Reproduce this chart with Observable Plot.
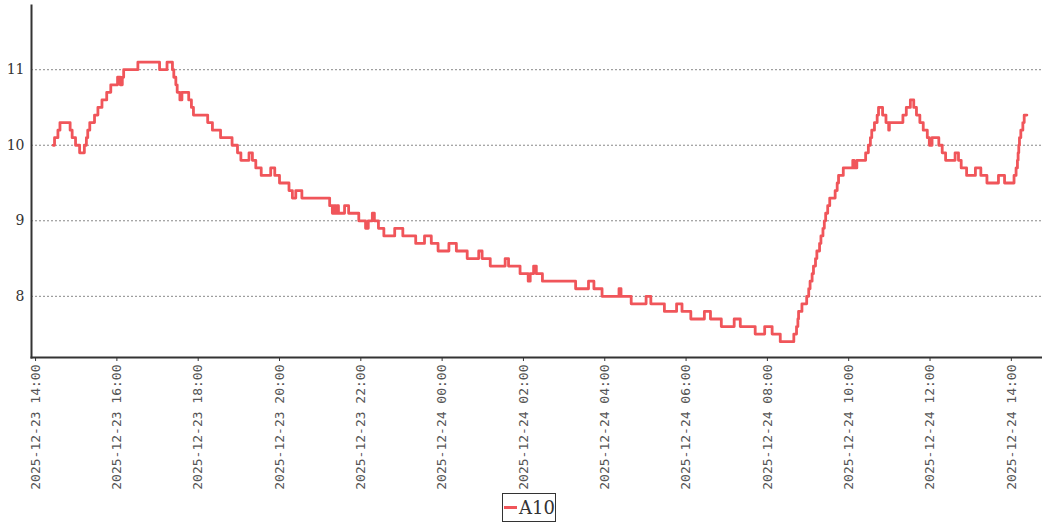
<!DOCTYPE html>
<html>
<head>
<meta charset="utf-8">
<script src="https://cdn.jsdelivr.net/npm/d3@7"></script>
<script src="https://cdn.jsdelivr.net/npm/@observablehq/plot@0.6"></script>
<style>
  html, body { margin: 0; padding: 0; background: #fff; }
  #chart { position: relative; width: 1042px; }
  #legend { position: relative; width: 1042px; height: 29px; }
  .lg-box { position: absolute; left: 502px; top: 0; width: 52px; height: 27px; border: 1px solid #333; display: flex; align-items: center; font-family: "DejaVu Serif", serif; font-size: 18px; color: #333; }
  .lg-sw { width: 15px; height: 3px; background: #f0555a; margin-left: 1px; margin-right: 2px; }
</style>
</head>
<body>
<div id="chart"></div>
<div id="legend"><div class="lg-box"><span class="lg-sw"></span><span id="lg-text"></span></div></div>
<script>
const seriesName = "A10";
const times = [
"2025-12-23 14:26","2025-12-23 14:28","2025-12-23 14:33","2025-12-23 14:36","2025-12-23 14:51","2025-12-23 14:54","2025-12-23 14:59","2025-12-23 15:05","2025-12-23 15:12","2025-12-23 15:15",
"2025-12-23 15:17","2025-12-23 15:20","2025-12-23 15:27","2025-12-23 15:32","2025-12-23 15:38","2025-12-23 15:45","2025-12-23 15:51","2025-12-23 16:01","2025-12-23 16:05","2025-12-23 16:08",
"2025-12-23 16:10","2025-12-23 16:31","2025-12-23 17:03","2025-12-23 17:14","2025-12-23 17:22","2025-12-23 17:24","2025-12-23 17:27","2025-12-23 17:29","2025-12-23 17:33","2025-12-23 17:36",
"2025-12-23 17:46","2025-12-23 17:50","2025-12-23 17:53","2025-12-23 18:14","2025-12-23 18:21","2025-12-23 18:33","2025-12-23 18:50","2025-12-23 18:58","2025-12-23 19:03","2025-12-23 19:15",
"2025-12-23 19:20","2025-12-23 19:25","2025-12-23 19:33","2025-12-23 19:47","2025-12-23 19:53","2025-12-23 20:00","2025-12-23 20:14","2025-12-23 20:19","2025-12-23 20:24","2025-12-23 20:33",
"2025-12-23 21:14","2025-12-23 21:18","2025-12-23 21:20","2025-12-23 21:23","2025-12-23 21:25","2025-12-23 21:27","2025-12-23 21:36","2025-12-23 21:42","2025-12-23 21:57","2025-12-23 22:07",
"2025-12-23 22:11","2025-12-23 22:17","2025-12-23 22:20","2025-12-23 22:26","2025-12-23 22:34","2025-12-23 22:50","2025-12-23 23:02","2025-12-23 23:21","2025-12-23 23:34","2025-12-23 23:44",
"2025-12-23 23:54","2025-12-24 00:10","2025-12-24 00:21","2025-12-24 00:37","2025-12-24 00:54","2025-12-24 00:59","2025-12-24 01:11","2025-12-24 01:33","2025-12-24 01:38","2025-12-24 01:55",
"2025-12-24 02:07","2025-12-24 02:10","2025-12-24 02:15","2025-12-24 02:19","2025-12-24 02:28","2025-12-24 03:17","2025-12-24 03:36","2025-12-24 03:44","2025-12-24 03:56","2025-12-24 04:21",
"2025-12-24 04:24","2025-12-24 04:39","2025-12-24 05:01","2025-12-24 05:08","2025-12-24 05:28","2025-12-24 05:46","2025-12-24 05:54","2025-12-24 06:07","2025-12-24 06:27","2025-12-24 06:36",
"2025-12-24 06:52","2025-12-24 07:11","2025-12-24 07:20","2025-12-24 07:42","2025-12-24 07:56","2025-12-24 08:07","2025-12-24 08:19","2025-12-24 08:39","2025-12-24 08:43","2025-12-24 08:45",
"2025-12-24 08:46","2025-12-24 08:51","2025-12-24 08:58","2025-12-24 09:01","2025-12-24 09:03","2025-12-24 09:06","2025-12-24 09:08","2025-12-24 09:11","2025-12-24 09:13","2025-12-24 09:17",
"2025-12-24 09:19","2025-12-24 09:22","2025-12-24 09:24","2025-12-24 09:26","2025-12-24 09:29","2025-12-24 09:32","2025-12-24 09:40","2025-12-24 09:43","2025-12-24 09:45","2025-12-24 09:52",
"2025-12-24 10:06","2025-12-24 10:08","2025-12-24 10:12","2025-12-24 10:25","2025-12-24 10:29","2025-12-24 10:32","2025-12-24 10:34","2025-12-24 10:38","2025-12-24 10:42","2025-12-24 10:44",
"2025-12-24 10:50","2025-12-24 10:55","2025-12-24 10:59","2025-12-24 11:00","2025-12-24 11:20","2025-12-24 11:25","2025-12-24 11:31","2025-12-24 11:36","2025-12-24 11:40","2025-12-24 11:45",
"2025-12-24 11:50","2025-12-24 11:56","2025-12-24 11:59","2025-12-24 12:03","2025-12-24 12:13","2025-12-24 12:18","2025-12-24 12:23","2025-12-24 12:37","2025-12-24 12:42","2025-12-24 12:46",
"2025-12-24 12:54","2025-12-24 13:07","2025-12-24 13:15","2025-12-24 13:24","2025-12-24 13:41","2025-12-24 13:50","2025-12-24 14:04","2025-12-24 14:07","2025-12-24 14:09","2025-12-24 14:10",
"2025-12-24 14:11","2025-12-24 14:12","2025-12-24 14:14","2025-12-24 14:17","2025-12-24 14:19","2025-12-24 14:23"
];
const values = [
10.0,10.1,10.2,10.3,10.2,10.1,10.0,9.9,10.0,10.1,
10.2,10.3,10.4,10.5,10.6,10.7,10.8,10.9,10.8,10.9,
11.0,11.1,11.0,11.1,11.0,10.9,10.8,10.7,10.6,10.7,
10.6,10.5,10.4,10.3,10.2,10.1,10.0,9.9,9.8,9.9,
9.8,9.7,9.6,9.7,9.6,9.5,9.4,9.3,9.4,9.3,
9.2,9.1,9.2,9.1,9.2,9.1,9.2,9.1,9.0,8.9,
9.0,9.1,9.0,8.9,8.8,8.9,8.8,8.7,8.8,8.7,
8.6,8.7,8.6,8.5,8.6,8.5,8.4,8.5,8.4,8.3,
8.2,8.3,8.4,8.3,8.2,8.1,8.2,8.1,8.0,8.1,
8.0,7.9,8.0,7.9,7.8,7.9,7.8,7.7,7.8,7.7,
7.6,7.7,7.6,7.5,7.6,7.5,7.4,7.5,7.6,7.7,
7.8,7.9,8.0,8.1,8.2,8.3,8.4,8.5,8.6,8.7,
8.8,8.9,9.0,9.1,9.2,9.3,9.4,9.5,9.6,9.7,
9.8,9.7,9.8,9.9,10.0,10.1,10.2,10.3,10.4,10.5,
10.4,10.3,10.2,10.3,10.4,10.5,10.6,10.5,10.4,10.3,
10.2,10.1,10.0,10.1,10.0,9.9,9.8,9.9,9.8,9.7,
9.6,9.7,9.6,9.5,9.6,9.5,9.6,9.7,9.8,9.9,
10.0,10.1,10.2,10.3,10.4,10.4
];
const xTicks = ["2025-12-23 14:00","2025-12-23 16:00","2025-12-23 18:00","2025-12-23 20:00","2025-12-23 22:00","2025-12-24 00:00","2025-12-24 02:00","2025-12-24 04:00","2025-12-24 06:00","2025-12-24 08:00","2025-12-24 10:00","2025-12-24 12:00","2025-12-24 14:00"];
const yTicks = [8, 9, 10, 11];
const xDomain = ["2025-12-23 13:54", "2025-12-24 14:46"];
const yDomain = [7.19, 11.85];

const parse = d3.timeParse("%Y-%m-%d %H:%M");
const fmt = d3.timeFormat("%Y-%m-%d %H:%M");
const data = times.map((t, i) => ({date: parse(t), value: values[i]}));

const plot = Plot.plot({
  width: 1042,
  height: 493,
  marginTop: 5,
  marginBottom: 136,
  marginLeft: 31,
  marginRight: 0,
  style: {background: "#fff", color: "#333"},
  x: {type: "time", domain: xDomain.map(parse)},
  y: {domain: yDomain},
  marks: [
    Plot.gridY(yTicks, {stroke: "#888", strokeOpacity: 1, strokeDasharray: "2,2", strokeWidth: 1}),
    Plot.line(data, {x: "date", y: "value", curve: "step-after", stroke: "#f0555a", strokeWidth: 2.8}),
    Plot.axisX(xTicks.map(parse), {tickFormat: fmt, tickRotate: -90, tickSize: 4, tickPadding: 3, fontSize: 13, fill: "#555", fontFamily: "'DejaVu Sans Mono', monospace", label: null}),
    Plot.axisY(yTicks, {tickFormat: d3.format("d"), tickSize: 0, tickPadding: 7, fontSize: 14, fill: "#333", fontFamily: "'DejaVu Serif', serif", label: null}),
    Plot.frame({anchor: "left", stroke: "#333", strokeWidth: 2}),
    Plot.frame({anchor: "bottom", stroke: "#333", strokeWidth: 2})
  ]
});
document.getElementById("chart").appendChild(plot);
document.getElementById("lg-text").textContent = seriesName;
</script>
</body>
</html>
